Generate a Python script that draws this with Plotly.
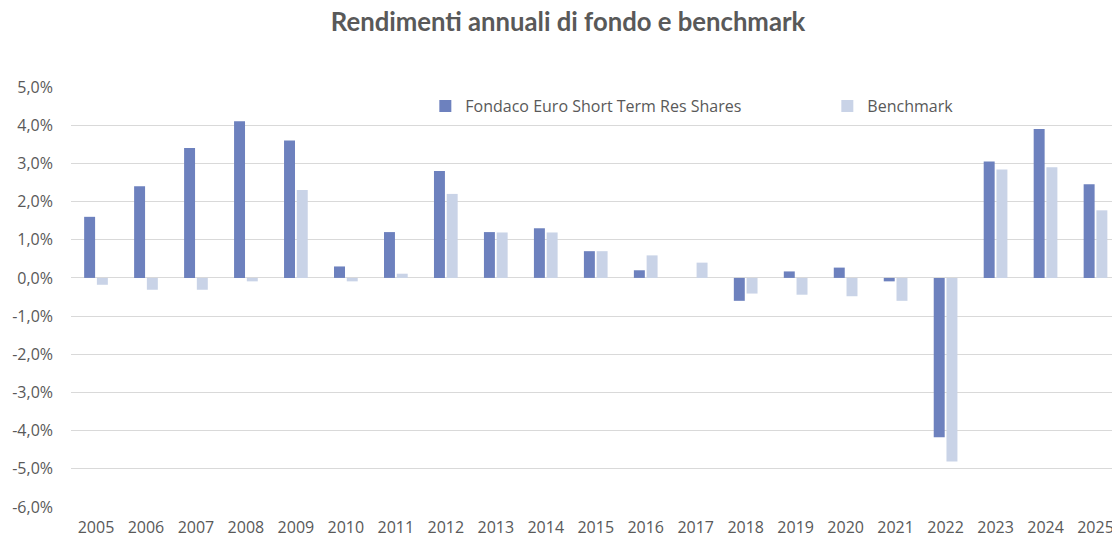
import plotly.graph_objects as go

years = [str(y) for y in range(2005, 2026)]
fondo = [1.6, 2.4, 3.4, 4.1, 3.6, 0.3, 1.2, 2.8, 1.2, 1.3, 0.7, 0.2, 0.0, -0.6, 0.17, 0.27, -0.09, -4.17, 3.05, 3.9, 2.45]
benchmark = [-0.18, -0.31, -0.31, -0.09, 2.3, -0.09, 0.11, 2.2, 1.19, 1.19, 0.7, 0.59, 0.4, -0.41, -0.44, -0.48, -0.6, -4.81, 2.84, 2.9, 1.77]
y_tick_values = [-6, -5, -4, -3, -2, -1, 0, 1, 2, 3, 4, 5]
y_tick_labels = ["-6,0%", "-5,0%", "-4,0%", "-3,0%", "-2,0%", "-1,0%", "0,0%", "1,0%", "2,0%", "3,0%", "4,0%", "5,0%"]
series_names = ["Fondaco Euro Short Term Res Shares", "Benchmark"]
title_text = "Rendimenti annuali di fondo e benchmark"

fig = go.Figure()
fig.add_trace(go.Bar(x=years, y=fondo, name=series_names[0], marker_color="#6D81BE", marker_line_width=0))
fig.add_trace(go.Bar(x=years, y=benchmark, name=series_names[1], marker_color="#C9D3E7", marker_line_width=0))

W, H = 1112, 539
ml, mt, mb = 70.5, 87, 32
plot_w = W - ml
plot_h = H - mt - mb
fig.update_layout(
    width=W, height=H,
    autosize=False,
    margin=dict(l=ml, r=0, t=mt, b=mb, pad=0, autoexpand=False),
    paper_bgcolor="white", plot_bgcolor="white",
    separators=",.",
    barmode="group", bargap=0.49, bargroupgap=0.14,
    title=dict(text=f"<b>{title_text}</b>", x=568 / W, xanchor="center", xref="container",
               y=1 - 22 / H, yref="container", yanchor="middle",
               font=dict(family="Lato", size=25.7, color="#595959")),
    legend=dict(orientation="h", xref="paper", yref="paper",
                x=(425 - ml) / plot_w, y=1 - (106 - mt) / plot_h,
                xanchor="left", yanchor="middle", entrywidth=357, entrywidthmode="pixels",
                font=dict(family="Open Sans", size=16, color="#595959"), bgcolor="rgba(0,0,0,0)",
                itemwidth=30, tracegroupgap=0),
    showlegend=True,
)
fig.update_xaxes(
    type="category", range=[-0.5, plot_w / 50 - 0.5],
    showgrid=False, showline=False, zeroline=False, ticks="", automargin=False,
    tickfont=dict(family="Open Sans", size=16, color="#595959"),
    ticklabelstandoff=9,
)
fig.update_yaxes(
    range=[-6, 5], tickmode="array", tickvals=y_tick_values, ticktext=y_tick_labels,
    showgrid=True, gridcolor="#D9D9D9", gridwidth=1, automargin=False,
    zeroline=True, zerolinecolor="#D9D9D9", zerolinewidth=1,
    showline=False, ticks="",
    tickfont=dict(family="Open Sans", size=16, color="#595959"),
    ticklabelstandoff=17,
)
fig.write_html(
    "out.html",
    config={"displayModeBar": False},
    post_script="document.body.style.margin='0';document.body.style.overflow='hidden';",
)
